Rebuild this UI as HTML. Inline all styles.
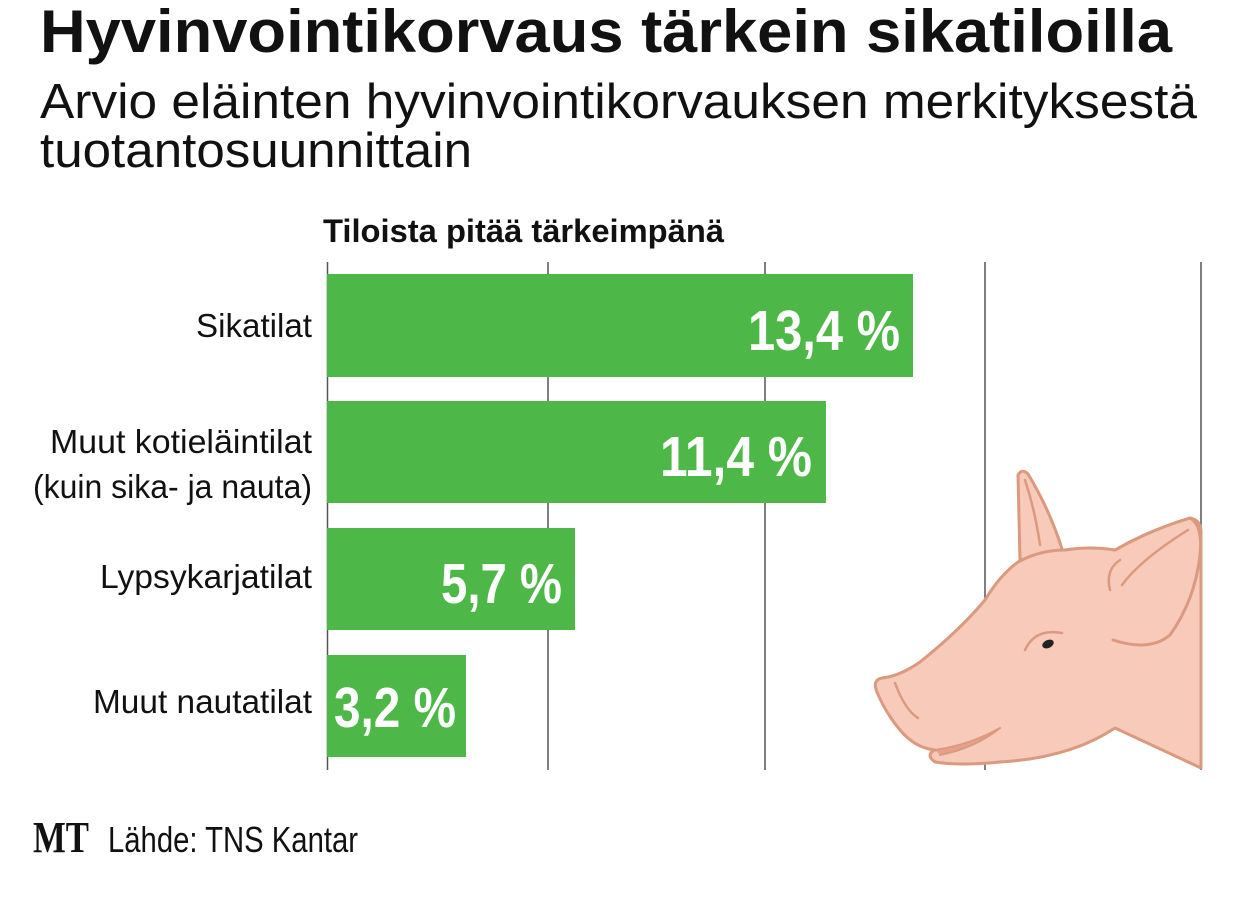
<!DOCTYPE html>
<html><head><meta charset="utf-8"><style>
html,body{margin:0;padding:0;background:#fff;}
svg{display:block;}
</style></head><body>
<svg width="1240" height="901" viewBox="0 0 1240 901" xmlns="http://www.w3.org/2000/svg" font-family="Liberation Sans, sans-serif">
<rect width="1240" height="901" fill="#fff"/>
<text x="40" y="52" font-size="60" font-weight="bold" fill="#111" textLength="1132" lengthAdjust="spacingAndGlyphs">Hyvinvointikorvaus tärkein sikatiloilla</text>
<text x="40" y="118" font-size="49" fill="#111" textLength="1157" lengthAdjust="spacingAndGlyphs">Arvio eläinten hyvinvointikorvauksen merkityksestä</text>
<text x="40" y="167" font-size="49" fill="#111" textLength="432" lengthAdjust="spacingAndGlyphs">tuotantosuunnittain</text>
<text x="323" y="242" font-size="32" font-weight="bold" fill="#111" textLength="401" lengthAdjust="spacingAndGlyphs">Tiloista pitää tärkeimpänä</text>
<g stroke="#555" stroke-width="1.5">
<line x1="327.5" y1="262" x2="327.5" y2="770"/>
<line x1="548" y1="262" x2="548" y2="770"/>
<line x1="765" y1="262" x2="765" y2="770"/>
<line x1="985" y1="262" x2="985" y2="770"/>
<line x1="1201" y1="262" x2="1201" y2="770"/>
</g>
<g fill="#4db848">
<rect x="327" y="274" width="586" height="103"/>
<rect x="327" y="401" width="499" height="102"/>
<rect x="327" y="528" width="248" height="102"/>
<rect x="327" y="655" width="139" height="102"/>
</g>
<g font-size="33" fill="#111" text-anchor="end">
<text x="312" y="337" textLength="116" lengthAdjust="spacingAndGlyphs">Sikatilat</text>
<text x="312" y="453" textLength="262" lengthAdjust="spacingAndGlyphs">Muut kotieläintilat</text>
<text x="312" y="498" textLength="279" lengthAdjust="spacingAndGlyphs">(kuin sika- ja nauta)</text>
<text x="312" y="588" textLength="212" lengthAdjust="spacingAndGlyphs">Lypsykarjatilat</text>
<text x="312" y="713" textLength="219" lengthAdjust="spacingAndGlyphs">Muut nautatilat</text>
</g>
<g font-size="57" font-weight="bold" fill="#fff">
<text x="748" y="350" textLength="152" lengthAdjust="spacingAndGlyphs">13,4 %</text>
<text x="660" y="476" textLength="152" lengthAdjust="spacingAndGlyphs">11,4 %</text>
<text x="441" y="603" textLength="121" lengthAdjust="spacingAndGlyphs">5,7 %</text>
<text x="334" y="727" textLength="122" lengthAdjust="spacingAndGlyphs">3,2 %</text>
</g>
<g fill="#f7cab9" stroke="#d99a80" stroke-width="3" stroke-linejoin="round" stroke-linecap="round">
<path d="M1020,560 L1018,475 Q1022,468 1028,474 Q1050,510 1063,552 Z"/>
<path d="M1201,530 L1201,768 L1115,728 Q1070,758 1000,762 Q960,766 935,762 Q925,755 935,750 Q915,748 900,730 Q885,712 877,692 Q872,680 882,678 Q900,676 920,662 Q960,630 985,600 Q1000,575 1018,562 Q1040,550 1065,550 Q1090,546 1115,550 Q1150,530 1190,518 Q1200,520 1201,530 Z"/>
<path d="M1115,550 Q1150,530 1190,518 Q1203,525 1200,555 Q1195,600 1170,635 Q1150,652 1113,640" fill="none"/>
<path d="M1122,585 Q1140,560 1188,530" fill="none" stroke-width="2.5"/>
<path d="M1110,590 Q1105,570 1120,560" fill="none" stroke-width="2.5"/>
<path d="M1025,480 Q1035,510 1040,545" fill="none" stroke-width="2.5"/>
<path d="M895,683 Q905,710 918,718" fill="none" stroke-width="2.5"/>
<path d="M935,750 Q970,745 1000,728 Q975,748 940,755" fill="#e9a08a" stroke-width="2"/>
<path d="M1025,650 Q1035,628 1062,633" fill="none" stroke-width="2.5"/>
</g>
<ellipse cx="1048" cy="644" rx="6" ry="4" fill="#222" transform="rotate(-25 1048 644)"/>
<text x="33" y="852" style="font-family:'Liberation Serif',serif" font-size="44" font-weight="bold" fill="#111" textLength="56" lengthAdjust="spacingAndGlyphs">MT</text>
<text x="108" y="852" font-size="36" fill="#111" textLength="250" lengthAdjust="spacingAndGlyphs">Lähde: TNS Kantar</text>
</svg>
</body></html>
